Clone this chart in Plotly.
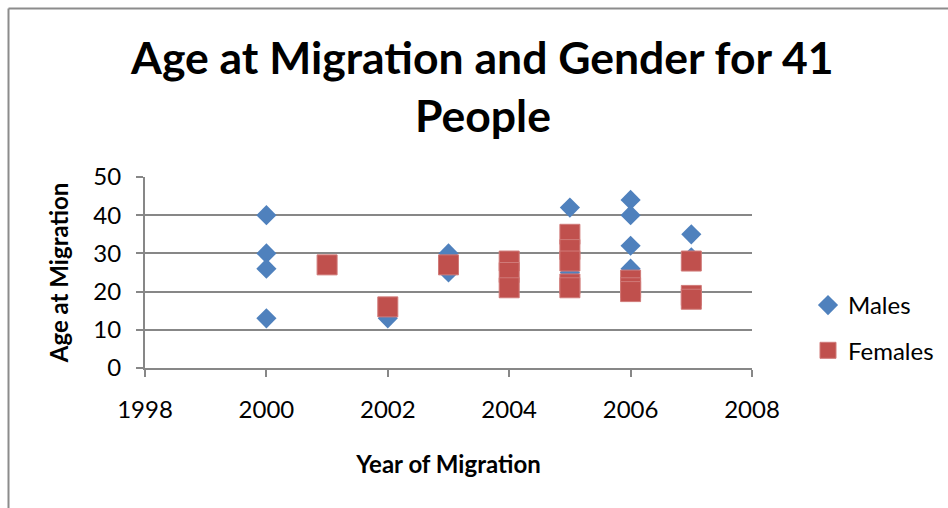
import plotly.graph_objects as go

# Data
male_years = [2000, 2000, 2000, 2000, 2002, 2003, 2003, 2004, 2005, 2005,
              2006, 2006, 2006, 2006, 2007, 2007]
male_ages = [40, 30, 26, 13, 13, 30, 25, 24, 42, 25,
             44, 40, 32, 26, 35, 29]

female_years = [2001, 2002, 2003, 2004, 2004, 2004, 2005, 2005, 2005, 2005,
                2005, 2006, 2006, 2006, 2007, 2007, 2007]
female_ages = [27, 16, 27, 28, 25, 21, 35, 31, 28, 22,
               21, 23, 21, 20, 28, 19, 18]

title_lines = ["Age at Migration and Gender for 41", "People"]
x_title = "Year of Migration"
y_title = "Age at Migration"

FONT = "Lato"
GRID = "#878787"

fig = go.Figure()
fig.add_trace(go.Scatter(
    x=male_years, y=male_ages, mode="markers", name="Males",
    legendgroup="m",
    marker=dict(symbol="diamond", size=15.5, color="#4F81BD", line=dict(width=0)),
))
fig.add_trace(go.Scatter(
    x=female_years, y=female_ages, mode="markers", name="Females",
    legendgroup="f",
    marker=dict(symbol="square", size=20, color="#C0504D",
                line=dict(width=1, color="#D07A78")),
))

L, R, T, B = 145, 752, 177, 368
W, H = 948, 508
pw, ph = R - L, B - T

def px_x(x):
    return (x - L) / pw

def px_y(y):
    return (B - y) / ph

fig.update_layout(
    width=W, height=H,
    margin=dict(l=L, r=W - R, t=T, b=H - B, pad=0, autoexpand=False),
    paper_bgcolor="white", plot_bgcolor="white",
    font=dict(family=FONT, color="black", size=24),
    showlegend=True,
    legend=dict(x=px_x(808), y=px_y(283), xanchor="left", yanchor="top",
                font=dict(size=24, family=FONT), tracegroupgap=11,
                itemwidth=30, bgcolor="rgba(0,0,0,0)"),
    xaxis=dict(range=[1998, 2008], tickmode="linear", tick0=1998, dtick=2,
               showgrid=False, zeroline=False, automargin=False,
               showline=True, linecolor=GRID, linewidth=2,
               ticks="outside", ticklen=7, tickcolor=GRID, tickwidth=2,
               ticklabelstandoff=12,
               tickfont=dict(size=24, family=FONT),
               title=dict(text=f"<b>{x_title}</b>", standoff=34,
                          font=dict(size=24, family=FONT))),
    yaxis=dict(range=[0, 50], tickmode="linear", tick0=0, dtick=10,
               showgrid=True, gridcolor=GRID, gridwidth=2,
               zeroline=False, automargin=False,
               showline=True, linecolor=GRID, linewidth=2,
               ticks="outside", ticklen=7, tickcolor=GRID, tickwidth=2,
               ticklabelstandoff=10,
               tickfont=dict(size=24, family=FONT),
               title=dict(text=f"<b>{y_title}</b>", standoff=18,
                          font=dict(size=24, family=FONT))),
)

fig.add_annotation(text=f"<b>{title_lines[0]}</b>", xref="paper", yref="paper",
                   x=px_x(482), y=px_y(56), xanchor="center", yanchor="middle",
                   showarrow=False, font=dict(size=44.5, family=FONT, color="black"))
fig.add_annotation(text=f"<b>{title_lines[1]}</b>", xref="paper", yref="paper",
                   x=px_x(483), y=px_y(114), xanchor="center", yanchor="middle",
                   showarrow=False, font=dict(size=44.5, family=FONT, color="black"))

# chart-area border (top and left edges visible in the reference)
fig.add_shape(type="line", xref="paper", yref="paper",
              x0=px_x(8.5), y0=px_y(8.5), x1=px_x(W + 5), y1=px_y(8.5),
              line=dict(color="#8C8C8C", width=2))
fig.add_shape(type="line", xref="paper", yref="paper",
              x0=px_x(8.5), y0=px_y(8.5), x1=px_x(8.5), y1=px_y(H + 5),
              line=dict(color="#8C8C8C", width=2))

fig.write_html("out.html")
